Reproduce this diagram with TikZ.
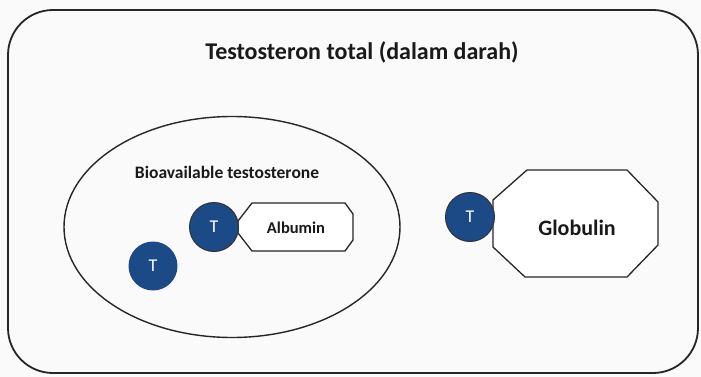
\documentclass[tikz,border=0pt]{standalone}
\usepackage{fontspec}
\setmainfont{Carlito}
\usetikzlibrary{shapes.geometric}
\definecolor{tblue}{RGB}{28,74,134}
\definecolor{pagebg}{RGB}{250,250,250}
\tikzset{
  frame/.style={draw=black!85, line width=1.8pt, rounded corners=45pt},
  pool/.style={draw=black!85, line width=1.4pt},
  protein/.style={draw=black!85, line width=1.3pt, fill=white},
  hormone/.style={circle, fill=tblue, text=white, minimum size=49pt, inner sep=0pt,
    font=\fontsize{18}{20}\selectfont},
  hormoneb/.style={hormone, draw=black!80, line width=1pt},
  label/.style={font=\bfseries\fontsize{#1}{#1}\selectfont, text=black!90, inner sep=0pt},
}
\begin{document}
\begin{tikzpicture}[x=1pt,y=-1pt]
  % page area
  \fill[pagebg] (0,0) rectangle (701,377);
  \useasboundingbox (0,0) rectangle (701,377);

  % total testosterone in blood
  \draw[frame] (8,10) rectangle (698,373);
  \node[label=24] (title) at (362,52) {Testosteron total (dalam darah)};

  % bioavailable fraction
  \node[pool, ellipse, minimum width=336pt, minimum height=221pt, inner sep=0pt] (bio) at (232,227) {};
  \node[label=17.5] (biolbl) at (227,172) {Bioavailable testosterone};

  % albumin carrier
  \draw[protein] (252,203) -- (345,203) -- (353,214) -- (353,240) -- (345,251)
    -- (252,251) -- (238,233) -- (238,221) -- cycle;
  \node[label=16.5] (alb) at (296,228) {Albumin};

  % globulin carrier
  \draw[protein] (527,170) -- (627,170) -- (658,202) -- (658,245) -- (627,277)
    -- (525,277) -- (493,247) -- (493,200) -- cycle;
  \node[label=22] (glob) at (577,228) {Globulin};

  % testosterone molecules
  \node[hormoneb] (talb) at (214,227) {T};
  \node[hormone] (tfree) at (153,266) {T};
  \node[hormoneb] (tglob) at (470,217) {T};
\end{tikzpicture}
\end{document}
